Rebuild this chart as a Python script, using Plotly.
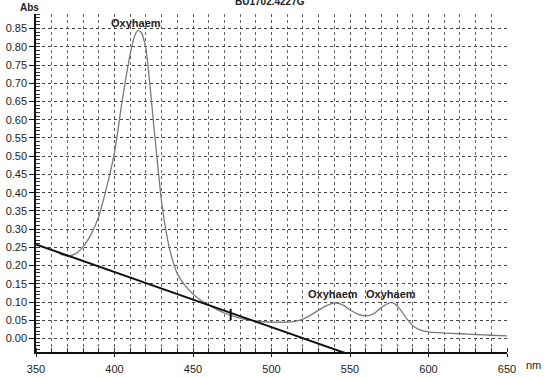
import plotly.graph_objects as go

# Absorbance spectrum (wavelength nm -> Abs)
wavelength = [365, 370, 375, 380, 385, 390, 395, 400, 405, 410, 413, 415, 417, 420,
              422, 425, 428, 430, 433, 436, 440, 445, 450, 455, 460, 465, 470, 475,
              480, 485, 490, 500, 510, 515, 520, 525, 530, 535, 540, 545, 550, 555,
              560, 565, 570, 575, 578, 582, 586, 590, 595, 600, 610, 620, 630, 640, 650]
absorbance = [0.232, 0.226, 0.232, 0.252, 0.285, 0.335, 0.415, 0.51, 0.655, 0.78, 0.832, 0.845, 0.84, 0.795,
              0.72, 0.585, 0.455, 0.375, 0.29, 0.23, 0.178, 0.145, 0.122, 0.105, 0.092, 0.080, 0.070, 0.062,
              0.056, 0.051, 0.048, 0.045, 0.045, 0.047, 0.053, 0.064, 0.078, 0.090, 0.098, 0.093, 0.079, 0.067,
              0.062, 0.068, 0.085, 0.098, 0.097, 0.080, 0.055, 0.035, 0.023, 0.018, 0.015, 0.013, 0.011, 0.009, 0.007]

# Hand-drawn baseline
baseline_nm = [350, 547]
baseline_abs = [0.258, -0.040]
mark_nm = [474]
mark_abs = [0.066]

# Peak labels
label_nm = [414, 539, 576]
label_abs = [0.864, 0.122, 0.122]
label_text = ["Oxyhaem", "Oxyhaem", "Oxyhaem"]

x_ticks = [350, 400, 450, 500, 550, 600, 650]
header_text = "BU1702.4227G"

FONT = "Liberation Sans, Arial, sans-serif"

fig = go.Figure()
fig.add_trace(go.Scatter(x=wavelength, y=absorbance, mode="lines",
                         line=dict(color="#7a7a7a", width=1.3, shape="spline", smoothing=0.6),
                         showlegend=False, hoverinfo="skip"))
fig.add_trace(go.Scatter(x=baseline_nm, y=baseline_abs, mode="lines",
                         line=dict(color="#111111", width=2),
                         showlegend=False, hoverinfo="skip"))
fig.add_trace(go.Scatter(x=mark_nm, y=mark_abs, mode="markers",
                         marker=dict(symbol="line-ns", size=8, line=dict(color="#111111", width=2)),
                         showlegend=False, hoverinfo="skip"))

for xv, yv, t in zip(label_nm, label_abs, label_text):
    fig.add_annotation(x=xv, y=yv, text=f"<b>{t}</b>", showarrow=False,
                       font=dict(family=FONT, size=11, color="#222"))

# header (partly above the page edge, as in the scan)
fig.add_annotation(xref="paper", yref="paper", x=(270 - 36) / 471, y=1, yshift=13,
                   text=f"<b>{header_text}</b>", showarrow=False,
                   xanchor="center", yanchor="middle",
                   font=dict(family=FONT, size=10, color="#222"))
fig.add_annotation(xref="paper", yref="paper", x=(29 - 36) / 471, y=1, yshift=7, text="<b>Abs</b>",
                   showarrow=False, xanchor="center", yanchor="middle",
                   font=dict(family=FONT, size=10, color="#222"))
fig.add_annotation(xref="x", yref="paper", x=650, xshift=26, y=0, yshift=-13, text="nm",
                   showarrow=False, xanchor="center", yanchor="middle",
                   font=dict(family=FONT, size=11, color="#222"))

fig.update_layout(
    width=545, height=378,
    margin=dict(l=36, r=38, t=14, b=26, autoexpand=False),
    paper_bgcolor="white", plot_bgcolor="white",
    font=dict(family=FONT, size=11, color="#222"),
    xaxis=dict(range=[350, 650], tickvals=x_ticks, ticktext=[str(v) for v in x_ticks],
               showgrid=True, gridcolor="#555", griddash="dot", gridwidth=1,
               showline=True, linecolor="#111", linewidth=1.5,
               ticks="outside", ticklen=3, tickcolor="#111", zeroline=False,
               ticklabelstandoff=3, automargin=False,
               minor=dict(dtick=10, tick0=350, showgrid=True, gridcolor="#666", griddash="dot",
                          gridwidth=1, ticks="inside", ticklen=4, tickcolor="#333"),
               fixedrange=True),
    yaxis=dict(range=[-0.037, 0.89], tick0=0, dtick=0.05, tickformat=".2f",
               showgrid=True, gridcolor="#444", griddash="dot", gridwidth=1,
               showline=True, linecolor="#111", linewidth=1.5,
               ticks="outside", ticklen=5, tickcolor="#111", zeroline=False,
               automargin=False,
               minor=dict(dtick=0.01, tick0=0, showgrid=False, ticks="inside", ticklen=4, tickcolor="#333"),
               fixedrange=True),
)

fig.write_html("out.html", config={"displayModeBar": False},
               post_script="document.body.style.margin='0';document.body.style.overflow='hidden';")
